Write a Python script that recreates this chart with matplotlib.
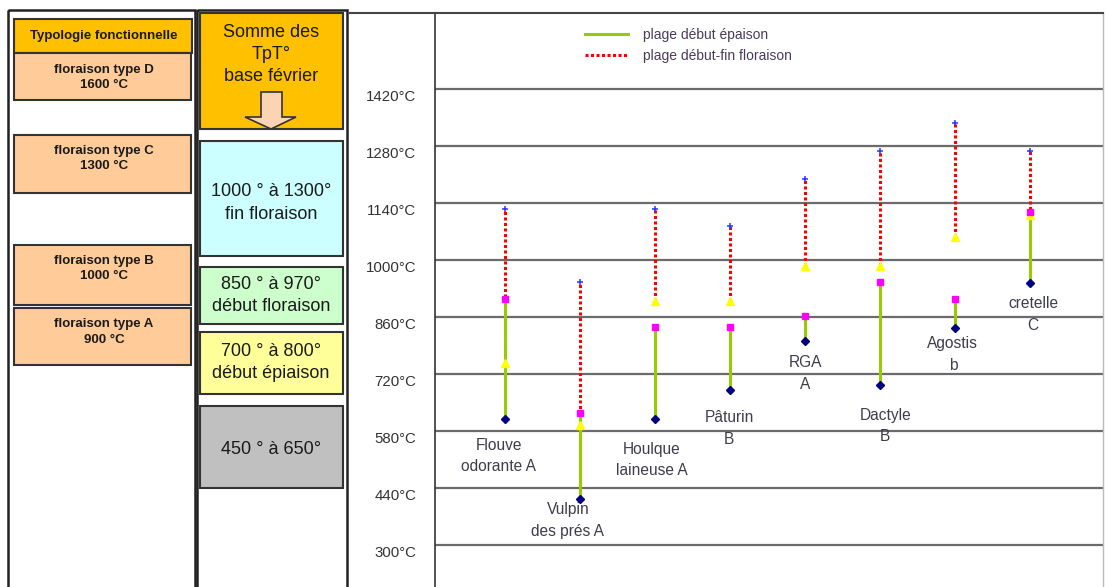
import matplotlib
matplotlib.use('Agg')
import matplotlib.pyplot as plt
from matplotlib.patches import Rectangle, Polygon
from matplotlib.transforms import ScaledTranslation

plt.rcParams['font.family'] = ['Liberation Sans', 'DejaVu Sans']

# data (°C, somme des TpT base février)
species = ["Flouve\nodorante A", "Vulpin\ndes prés A", "Houlque\nlaineuse A", "Pâturin\nB",
           "RGA\nA", "Dactyle\nB", "Agostis\nb", "cretelle\nC"]
epi_start = [609, 412, 609, 680, 802, 693, 832, 944]
epi_end = [904, 624, 835, 835, 863, 947, 904, 1119]
flo_start = [747, 595, 900, 900, 986, 986, 1056, 1111]
flo_end = [1125, 945, 1125, 1084, 1199, 1268, 1337, 1268]
yticks = [300, 440, 580, 720, 860, 1000, 1140, 1280, 1420]

types = ["floraison type D\n1600 °C", "floraison type C\n1300 °C",
         "floraison type B\n1000 °C", "floraison type A\n900 °C"]
stages = ["1000 ° à 1300°\nfin floraison", "850 ° à 970°\ndébut floraison",
          "700 ° à 800°\ndébut épiaison", "450 ° à 650°"]

# layout (pixels / offsets), not data
label_dx = [-0.08, -0.16, -0.04, -0.01, 0.0, 0.07, -0.03, 0.04]
label_y = [519, 361, 509, 587, 722, 592, 768, 867]
type_boxes = [(53, 100, 77.5), (135, 193, 158.5), (245, 305, 268.5), (308, 365, 332)]
stage_boxes = [(141, 256, 203, '#CCFFFF'), (267, 324, 295.5, '#CCFFCC'),
               (332, 394, 362.5, '#FFFF99'), (406, 488, 450, '#C0C0C0')]

W, H = 1107, 587
fig = plt.figure(figsize=(W / 100, H / 100), dpi=100)

# left tables drawn in pixel space
bg = fig.add_axes([0, 0, 1, 1])
bg.set_xlim(0, W)
bg.set_ylim(H, 0)
bg.axis('off')

bg.add_patch(Rectangle((8, 10), 187, 620, fc='none', ec='#222222', lw=1.8))
bg.add_patch(Rectangle((197, 10), 150, 620, fc='none', ec='#222222', lw=1.8))

bg.add_patch(Rectangle((14, 19), 178, 34, fc='#FFC000', ec='#333333', lw=1.5))
bg.text(104, 36, "Typologie fonctionnelle", ha='center', va='center',
        fontsize=9.5, fontweight='bold', color='#1a1a1a')
for txt, (y0, y1, yc) in zip(types, type_boxes):
    bg.add_patch(Rectangle((14, y0), 177, y1 - y0, fc='#FFCC99', ec='#333333', lw=1.5))
    bg.text(104, yc, txt, ha='center', va='center', fontsize=9.5,
            fontweight='bold', color='#1a1a1a', linespacing=1.4)

bg.add_patch(Rectangle((200, 13), 143, 116, fc='#FFC000', ec='#333333', lw=1.5))
bg.text(271, 54.5, "Somme des\nTpT°\nbase février", ha='center', va='center',
        fontsize=13, color='#1a1a1a', linespacing=1.42)
arrow = [(261, 92), (282, 92), (282, 117), (296, 117), (271, 129), (245, 117), (261, 117)]
bg.add_patch(Polygon(arrow, closed=True, fc='#FBD4B4', ec='#333333', lw=1.2))
for txt, (y0, y1, yc, fc) in zip(stages, stage_boxes):
    bg.add_patch(Rectangle((200, y0), 143, y1 - y0, fc=fc, ec='#333333', lw=1.5))
    bg.text(271, yc, txt, ha='center', va='center', fontsize=13,
            color='#1a1a1a', linespacing=1.42)

bg.plot([350, 436], [13, 13], color='#444444', lw=1.5)

# main chart
ax = fig.add_axes([435 / W, 0, (1103 - 435) / W, (H - 13) / H])
ax.set_xlim(0.07, 8.97)
ax.set_ylim(197, 1607)
ax.set_yticks(yticks)
ax.set_xticks([])
ax.tick_params(axis='y', length=0, labelleft=False)
ax.yaxis.grid(True, color='#6b6b6b', lw=1.6)
ax.set_axisbelow(True)
ax.spines['bottom'].set_visible(False)
ax.spines['left'].set_color('#333333')
ax.spines['left'].set_linewidth(1.2)
ax.spines['top'].set_color('#444444')
ax.spines['top'].set_linewidth(1.5)
ax.spines['right'].set_color('#bbbbbb')
ax.spines['right'].set_linewidth(1.0)

off = ScaledTranslation(0, -0.08, fig.dpi_scale_trans)
for v in yticks:
    ax.text(-0.028, v, f"{v}°C", ha='right', va='center', fontsize=10.8, color='#333333',
            transform=ax.get_yaxis_transform() + off)

x = list(range(1, len(species) + 1))
for i in range(len(species)):
    r, = ax.plot([x[i], x[i]], [flo_start[i], flo_end[i]], color='red', lw=2.2,
                 ls=(0, (1, 0.8)), dash_capstyle='butt', zorder=3)
    g, = ax.plot([x[i], x[i]], [epi_start[i], epi_end[i]], color='#99CC00', lw=2.2, zorder=4)
    if i == 0:
        red_line, green_line = r, g

ax.plot(x, flo_start, ls='none', marker='^', color='#FFFF00', ms=6, zorder=5)
ax.plot(x, epi_end, ls='none', marker='s', color='#FF00FF', ms=5, zorder=6)
ax.plot(x, epi_start, ls='none', marker='D', color='#000080', ms=4, zorder=6)
ax.plot(x, flo_end, ls='none', marker='+', color='#3333FF', ms=4.5, mew=1.1, zorder=6)

for i, name in enumerate(species):
    ax.text(x[i] + label_dx[i], label_y[i], name, ha='center', va='center',
            fontsize=11.2, color='#3d3d4d', linespacing=1.55)

ax.legend([green_line, red_line], ["plage début épaison", "plage début-fin floraison"],
          loc='upper left', bbox_to_anchor=(585 / W, 1 - 28 / H), bbox_transform=fig.transFigure,
          frameon=False, fontsize=10, handlelength=3.1, handletextpad=1.08,
          labelspacing=0.5, borderpad=0, borderaxespad=0, labelcolor='#4b3b5b')

fig.savefig("out.png", dpi=100)
